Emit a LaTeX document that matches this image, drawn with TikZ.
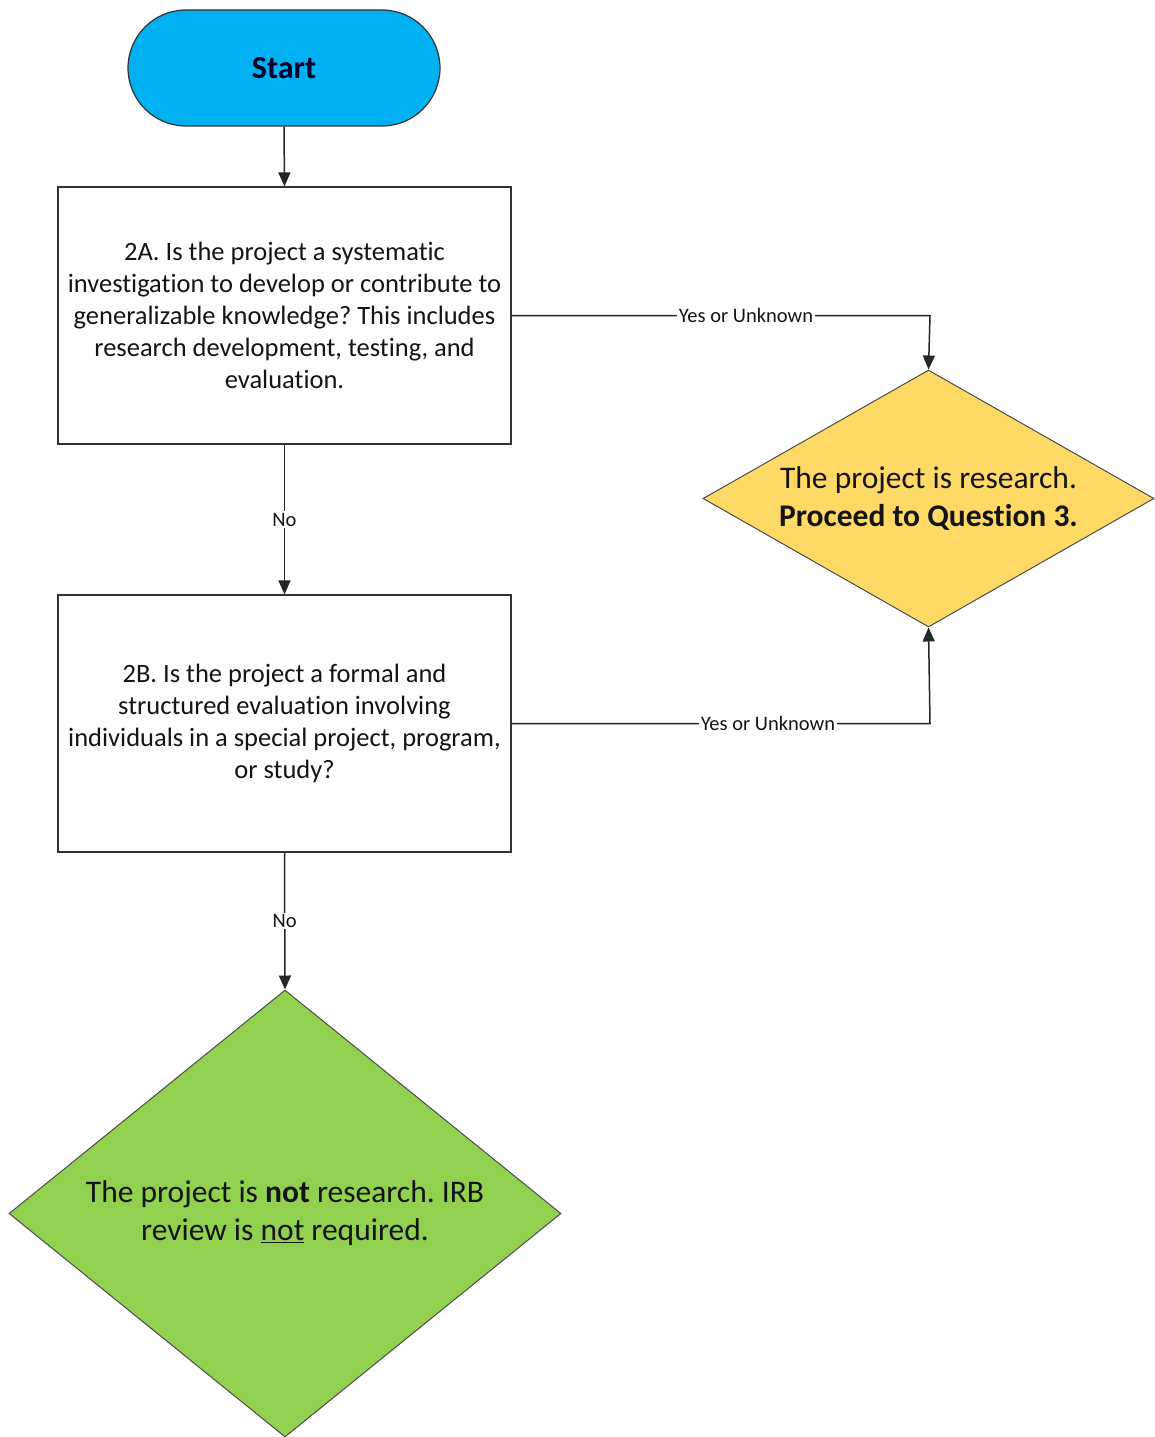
\documentclass[tikz,border=0pt]{standalone}
\usepackage{fontspec}
\setmainfont{Carlito}[Ligatures=NoCommon]
\usetikzlibrary{arrows.meta,shapes.geometric}
\frenchspacing
\definecolor{startblue}{HTML}{00B0F0}
\definecolor{resyellow}{HTML}{FFD966}
\definecolor{notgreen}{HTML}{92D050}
\definecolor{txt}{HTML}{141414}
\begin{document}
\begin{tikzpicture}[x=1pt,y=-1pt,
  every node/.style={text=txt},
  conn/.style={line width=1.5pt,draw=black!85,-{Triangle[width=12pt,length=14pt]}},
  qbox/.style={draw=black!80,line width=1.2pt,fill=white,minimum width=453pt,minimum height=257pt,inner sep=0pt,align=center,font=\fontsize{26.5}{32}\selectfont},
  elabel/.style={fill=white,inner sep=1.5pt,font=\fontsize{20.5}{22}\selectfont},
  dtext/.style={align=center,font=\fontsize{31.5}{38}\selectfont}]
\useasboundingbox (0,0) rectangle (1154,1437);
% Start
\node[draw=black!80,line width=1.2pt,fill=startblue,rounded corners=58pt,minimum width=312pt,minimum height=116pt,inner sep=0pt,font=\bfseries\fontsize{32}{36}\selectfont,text=black!85!blue] (start) at (284,68) {Start};
% Boxes
\node[qbox] (q2a) at (284.5,315.5) {2A. Is the project a systematic\\investigation to develop or contribute to\\generalizable knowledge? This includes\\research development, testing, and\\evaluation.};
\node[qbox] (q2b) at (284.5,723.5) {2B. Is the project a formal and\\structured evaluation involving\\individuals in a special project, program,\\or study?};
% Diamonds
\node[draw=black!70,line width=1pt,fill=resyellow,shape=diamond,minimum width=451pt,minimum height=257pt,inner sep=0pt] (res) at (928.5,498.5) {};
\node[dtext] (restext) at (res.center) {The project is research.\\\textbf{Proceed to Question 3.}};
\node[draw=black!70,line width=1pt,fill=notgreen,shape=diamond,minimum width=552pt,minimum height=447pt,inner sep=0pt] (notres) at (285,1213.5) {};
\node[dtext] (notrestext) at (notres.center) {The project is \textbf{not} research. IRB\\review is \underline{not} required.};
% Connectors
\draw[conn] (q2a.east) -- (930,315.5) -- (res.north);
\node[elabel] (l1) at (746,315.5) {Yes or Unknown};
\draw[conn] (start.south) -- (q2a.north);
\draw[conn] (q2a.south) -- node[elabel] (l2) {No} (q2b.north);
\draw[conn] (q2b.east) -- (930,723.5) -- (res.south);
\node[elabel] (l3) at (768,723.5) {Yes or Unknown};
\draw[conn] (q2b.south) -- node[elabel] (l4) {No} (notres.north);
\end{tikzpicture}
\end{document}
